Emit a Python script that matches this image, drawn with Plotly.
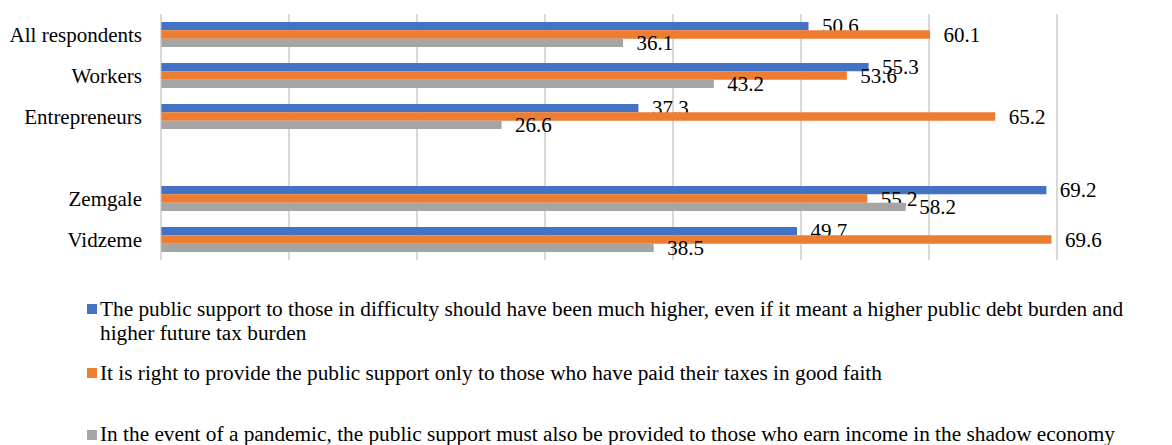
import plotly.graph_objects as go

categories = ["All respondents", "Workers", "Entrepreneurs", " ", "Zemgale", "Vidzeme"]
bar_categories = ["All respondents", "Workers", "Entrepreneurs", "Zemgale", "Vidzeme"]

series_names = [
    "The public support to those in difficulty should have been much higher, even if it meant a higher public debt burden and<br>higher future tax burden",
    "It is right to provide the public support only to those who have paid their taxes in good faith",
    "In the event of a pandemic, the public support must also be provided to those who earn income in the shadow economy",
]
values_support_higher = [50.6, 55.3, 37.3, 69.2, 49.7]
values_taxpayers_only = [60.1, 53.6, 65.2, 55.2, 69.6]
values_shadow_economy = [36.1, 43.2, 26.6, 58.2, 38.5]
colors = ["#4472C4", "#ED7D31", "#A5A5A5"]

FONT = "Liberation Serif"
FS = 21
LEG_FS = 21.3

# page body has an 8px default margin; positions below are measured in page pixels
OFF = 8
W, H = 1172, 445
X0_PX, X70_PX = 161, 1057          # page pixels of value 0 and 70
SCALE = (X70_PX - X0_PX) / 70.0
PADV = 0.5                          # axis padding (in data units) so edge gridlines are drawn
L = round(X0_PX - PADV * SCALE - OFF)
R = round(W - (X70_PX + PADV * SCALE - OFF))
T = 14 - OFF
B = H - (260 - OFF)
PW, PH = W - L - R, H - T - B


def px_x(px):
    return (px - OFF - L) / PW


def px_y(py):
    return (H - B - (py - OFF)) / PH


fig = go.Figure()
all_values = [values_support_higher, values_taxpayers_only, values_shadow_economy]
for name, vals, col in zip(series_names, all_values, colors):
    fig.add_trace(go.Bar(
        y=bar_categories, x=vals, name=name, orientation="h",
        marker=dict(color=col, line=dict(width=0)),
        texttemplate="\u00a0\u00a0%{x}", textposition="outside",
        constraintext="none", cliponaxis=False,
        textfont=dict(family=FONT, size=FS, color="#000000"),
        showlegend=False,
    ))

# Legend drawn as squares + text (Excel-like spacing)
legend_square_tops = [304, 368, 430]
legend_line_centers = [[309, 333], [373], [434]]
shapes = []
annotations = []
for name, col, sq_top, centers in zip(series_names, colors, legend_square_tops, legend_line_centers):
    shapes.append(dict(type="rect", xref="paper", yref="paper",
                       x0=px_x(87), x1=px_x(97), y0=px_y(sq_top + 10), y1=px_y(sq_top),
                       fillcolor=col, line=dict(width=0)))
    for line_text, cy in zip(name.split("<br>"), centers):
        annotations.append(dict(text=line_text, xref="paper", yref="paper",
                                x=px_x(98), y=px_y(cy), xanchor="left", yanchor="middle",
                                showarrow=False, font=dict(family=FONT, size=LEG_FS, color="#000000")))

fig.update_layout(
    width=W, height=H,
    margin=dict(l=L, r=R, t=T, b=B, pad=0, autoexpand=False),
    paper_bgcolor="white", plot_bgcolor="white",
    barmode="group", bargap=0.39, bargroupgap=0,
    font=dict(family=FONT, size=FS, color="#000000"),
    xaxis=dict(range=[-PADV, 70 + PADV], tick0=0, dtick=10, showgrid=True, gridcolor="#D9D9D9", gridwidth=1.5,
               showticklabels=False, zeroline=False, showline=False, ticks="", automargin=False),
    yaxis=dict(categoryorder="array", categoryarray=categories, type="category",
               range=[len(categories) - 0.5, -0.5], showgrid=False, showline=False,
               zeroline=False, ticks="", ticklabelstandoff=12, automargin=False,
               tickfont=dict(family=FONT, size=FS, color="#000000")),
    shapes=shapes,
    annotations=annotations,
    showlegend=False,
)

fig.write_html("out.html")
